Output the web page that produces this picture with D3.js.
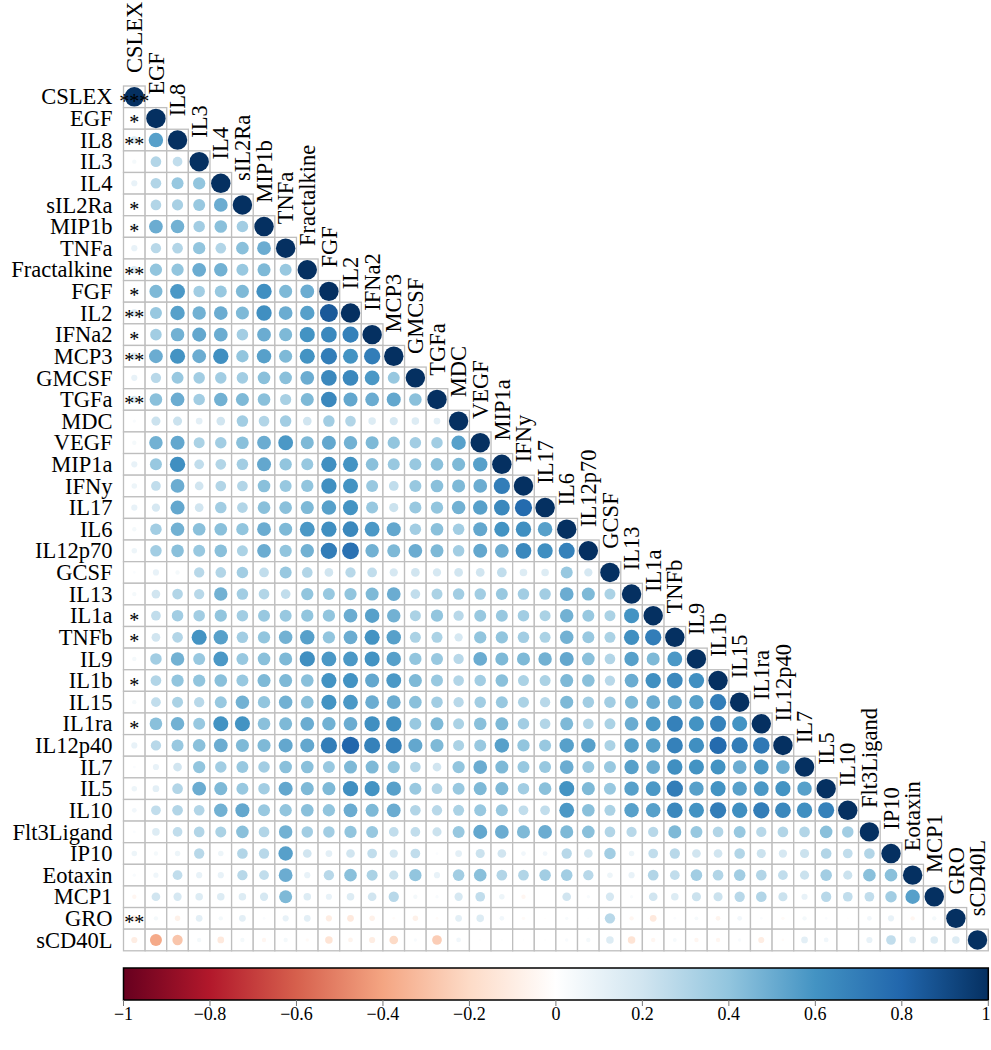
<!DOCTYPE html>
<html><head><meta charset="utf-8">
<script src="https://cdn.jsdelivr.net/npm/d3@7"></script>
<style>body{margin:0;background:#fff}svg{display:block}text{font-family:"Liberation Serif","Times New Roman",serif}</style>
</head><body><div id="chart"></div>
<script>
const variables = ["CSLEX","EGF","IL8","IL3","IL4","sIL2Ra","MIP1b","TNFa","Fractalkine","FGF","IL2","IFNa2","MCP3","GMCSF","TGFa","MDC","VEGF","MIP1a","IFNy","IL17","IL6","IL12p70","GCSF","IL13","IL1a","TNFb","IL9","IL1b","IL15","IL1ra","IL12p40","IL7","IL5","IL10","Flt3Ligand","IP10","Eotaxin","MCP1","GRO","sCD40L"];

// lower-triangle correlations, row i holds columns 0..i
const corrLower = [
[1],
[0.10,1],
[0.15,0.55,1],
[0.05,0.30,0.25,1],
[0.10,0.30,0.38,0.40,1],
[0.10,0.30,0.33,0.38,0.50,1],
[0.10,0.50,0.48,0.35,0.42,0.35,1],
[0.10,0.28,0.30,0.40,0.30,0.42,0.50,1],
[0.15,0.40,0.40,0.50,0.48,0.38,0.45,0.38,1],
[0.10,0.45,0.58,0.35,0.38,0.45,0.62,0.45,0.50,1],
[0.15,0.38,0.55,0.48,0.50,0.45,0.62,0.50,0.55,0.85,1],
[0.10,0.35,0.48,0.52,0.50,0.35,0.50,0.45,0.60,0.65,0.68,1],
[0.15,0.50,0.60,0.50,0.62,0.40,0.55,0.45,0.60,0.70,0.60,0.70,1],
[0.10,0.28,0.38,0.35,0.35,0.35,0.42,0.42,0.50,0.65,0.65,0.58,0.38,1],
[0.15,0.42,0.50,0.35,0.48,0.45,0.42,0.33,0.45,0.65,0.52,0.50,0.52,0.42,1],
[0.03,0.22,0.22,0.12,0.20,0.35,0.30,0.35,0.20,0.35,0.30,0.15,0.18,0.15,0.12,1],
[0.05,0.48,0.52,0.32,0.35,0.42,0.50,0.58,0.45,0.52,0.48,0.45,0.40,0.35,0.35,0.55,1],
[0.10,0.38,0.62,0.25,0.30,0.35,0.52,0.40,0.38,0.62,0.60,0.42,0.38,0.38,0.42,0.45,0.55,1],
[0.08,0.25,0.50,0.20,0.30,0.30,0.42,0.38,0.40,0.62,0.60,0.38,0.25,0.38,0.42,0.45,0.50,0.70,1],
[0.10,0.18,0.52,0.20,0.35,0.30,0.42,0.42,0.45,0.55,0.60,0.38,0.22,0.38,0.40,0.48,0.55,0.65,0.78,1],
[0.05,0.35,0.48,0.42,0.42,0.40,0.50,0.45,0.58,0.62,0.65,0.58,0.52,0.35,0.42,0.35,0.52,0.60,0.62,0.55,1],
[0.08,0.35,0.42,0.38,0.42,0.32,0.50,0.40,0.48,0.70,0.75,0.48,0.45,0.50,0.45,0.35,0.52,0.50,0.65,0.62,0.68,1],
[0.02,0.10,0.05,0.28,0.30,0.35,0.25,0.38,0.30,0.20,0.28,0.25,0.18,0.20,0.18,0.20,0.20,0.25,0.15,0.15,0.38,0.18,1],
[0.05,0.20,0.30,0.28,0.48,0.35,0.30,0.25,0.40,0.38,0.40,0.45,0.50,0.25,0.32,0.35,0.35,0.38,0.35,0.35,0.50,0.45,0.32,1],
[0.08,0.25,0.35,0.35,0.40,0.35,0.38,0.38,0.40,0.40,0.50,0.55,0.48,0.32,0.40,0.28,0.38,0.38,0.35,0.32,0.48,0.38,0.32,0.60,1],
[0.05,0.20,0.30,0.60,0.55,0.35,0.40,0.48,0.55,0.40,0.50,0.60,0.55,0.32,0.32,0.18,0.40,0.40,0.35,0.32,0.48,0.38,0.32,0.62,0.70,1],
[0.05,0.35,0.48,0.38,0.58,0.38,0.42,0.45,0.62,0.58,0.58,0.60,0.55,0.40,0.38,0.28,0.50,0.45,0.45,0.48,0.52,0.42,0.30,0.55,0.45,0.58,1],
[0.05,0.30,0.40,0.40,0.42,0.38,0.45,0.45,0.42,0.60,0.60,0.52,0.58,0.45,0.38,0.30,0.35,0.42,0.32,0.32,0.45,0.42,0.28,0.50,0.62,0.65,0.62,1],
[0.05,0.25,0.32,0.28,0.38,0.48,0.40,0.48,0.42,0.60,0.58,0.50,0.50,0.42,0.35,0.28,0.35,0.38,0.32,0.28,0.45,0.35,0.35,0.45,0.50,0.52,0.55,0.70,1],
[0.05,0.42,0.48,0.38,0.60,0.60,0.42,0.45,0.50,0.48,0.50,0.62,0.62,0.38,0.45,0.32,0.42,0.45,0.35,0.30,0.45,0.30,0.32,0.50,0.58,0.68,0.60,0.68,0.60,1],
[0.10,0.28,0.38,0.42,0.50,0.45,0.45,0.52,0.52,0.70,0.80,0.68,0.68,0.52,0.45,0.32,0.38,0.55,0.40,0.38,0.55,0.55,0.32,0.55,0.55,0.68,0.62,0.78,0.70,0.72,1],
[0.02,0.10,0.20,0.40,0.35,0.38,0.35,0.42,0.42,0.38,0.45,0.45,0.40,0.30,0.20,0.40,0.50,0.45,0.38,0.38,0.50,0.38,0.38,0.55,0.50,0.62,0.60,0.60,0.50,0.58,0.50,1],
[0.08,0.12,0.30,0.50,0.45,0.38,0.35,0.52,0.45,0.45,0.62,0.60,0.55,0.38,0.30,0.38,0.45,0.45,0.35,0.42,0.60,0.45,0.38,0.55,0.58,0.70,0.55,0.60,0.55,0.58,0.60,0.55,1],
[0.06,0.25,0.30,0.30,0.48,0.52,0.38,0.40,0.42,0.40,0.50,0.45,0.50,0.30,0.28,0.32,0.38,0.38,0.25,0.25,0.58,0.42,0.32,0.55,0.55,0.65,0.60,0.70,0.62,0.70,0.65,0.62,0.68,1],
[0.02,0.15,0.25,0.30,0.32,0.42,0.30,0.48,0.35,0.35,0.40,0.38,0.25,0.25,0.22,0.38,0.52,0.50,0.45,0.50,0.45,0.42,0.30,0.28,0.28,0.45,0.38,0.30,0.38,0.28,0.30,0.30,0.42,0.35,1],
[0.08,0.05,0.08,0.28,0.08,0.30,0.28,0.55,0.20,0.12,0.20,0.25,0.18,0.25,0.02,0.12,0.22,0.20,0.06,0.06,0.28,0.20,0.35,0.08,0.25,0.28,0.20,0.20,0.30,0.22,0.18,0.22,0.30,0.25,0.30,1],
[0.03,0.07,0.25,0.10,0.10,0.28,0.25,0.50,0.10,0.28,0.42,0.32,0.22,0.40,0.10,0.35,0.42,0.30,0.30,0.35,0.35,0.28,0.08,0.10,0.30,0.25,0.35,0.30,0.35,0.30,0.25,0.22,0.35,0.22,0.42,0.42,1],
[-0.05,0.20,0.18,0.15,0.15,0.15,0.18,0.45,0.15,0.10,0.15,0.20,0.28,0.05,0.03,0.18,0.25,0.08,-0.05,0.00,0.20,0.03,0.18,0.03,0.20,0.15,0.22,0.22,0.28,0.30,0.22,0.10,0.28,0.25,0.25,0.35,0.55,1],
[-0.10,0.05,-0.08,0.12,0.05,0.12,0.02,0.10,0.12,-0.10,-0.12,-0.08,-0.02,-0.08,-0.02,0.12,0.15,0.06,-0.03,-0.01,0.03,0.01,0.28,-0.05,-0.12,0.02,0.04,-0.06,0.06,0.02,-0.03,0.05,0.02,-0.01,0.06,0.10,-0.05,0.05,1],
[-0.10,-0.38,-0.28,0.05,-0.12,0.05,-0.05,0.05,-0.03,-0.15,-0.06,-0.10,-0.20,0.03,-0.25,0.06,0.01,0.01,0.01,0.01,0.03,0.05,0.15,-0.15,-0.05,0.04,-0.05,-0.05,0.03,-0.10,-0.02,0.12,0.06,0.00,0.10,0.25,0.12,0.15,0.15,1]
];

// significance stars shown in the first column
const sigStars = ["***","*","**","","","*","*","","**","*","**","*","**","","**","","","","","","","","","","*","*","","*","","*","","","","","","","","","**",""];

const colorStops = ["#67001F","#B2182B","#D6604D","#F4A582","#FDDBC7","#FFFFFF","#D1E5F0","#92C5DE","#4393C3","#2166AC","#053061"];
const colorTicks = [-1,-0.8,-0.6,-0.4,-0.2,0,0.2,0.4,0.6,0.8,1];

const W = 991, H = 1050;
const gx0 = 123.5, gy0 = 86, gsize = 864.8;

const svg = d3.select("#chart").append("svg").attr("width", W).attr("height", H);

const x = d3.scaleBand().domain(variables).range([gx0, gx0 + gsize]);
const y = d3.scaleBand().domain(variables).range([gy0, gy0 + gsize]);
const cs = x.bandwidth();
const color = d3.scaleLinear().domain(d3.range(11).map(i => -1 + i * 0.2)).range(colorStops).clamp(true);
const rScale = v => 0.9 * Math.sqrt(Math.abs(v)) / 2 * cs;

const cells = [];
corrLower.forEach((row, i) => row.forEach((v, j) => cells.push({i, j, v})));

const g = svg.append("g");
g.selectAll("rect.cell").data(cells).join("rect")
  .attr("class", "cell")
  .attr("x", d => x(variables[d.j]))
  .attr("y", d => y(variables[d.i]))
  .attr("width", cs).attr("height", cs)
  .attr("fill", "#fff").attr("stroke", "#bebebe").attr("stroke-width", 1.3);

g.selectAll("circle").data(cells).join("circle")
  .attr("cx", d => x(variables[d.j]) + cs / 2)
  .attr("cy", d => y(variables[d.i]) + cs / 2)
  .attr("r", d => rScale(d.v))
  .attr("fill", d => color(d.v));

// stars
g.selectAll("text.star").data(sigStars.map((s, i) => ({s, i})).filter(d => d.s)).join("text")
  .attr("class", "star")
  .attr("x", x(variables[0]) + cs / 2)
  .attr("y", d => y(variables[d.i]) + cs / 2 + 11)
  .attr("text-anchor", "middle")
  .attr("font-size", 20)
  .attr("fill", "#000")
  .text(d => d.s);

// row labels
svg.append("g").selectAll("text").data(variables).join("text")
  .attr("x", gx0 - 11)
  .attr("y", d => y(d) + cs / 2)
  .attr("dy", "0.34em")
  .attr("text-anchor", "end")
  .attr("font-size", 22.5)
  .text(d => d);

// diagonal labels
svg.append("g").selectAll("text").data(variables).join("text")
  .attr("transform", d => `translate(${x(d) + cs / 2},${y(d) - 13}) rotate(-90)`)
  .attr("dy", "0.34em")
  .attr("text-anchor", "start")
  .attr("font-size", 22.5)
  .text(d => d);

// colorbar
const cbTop = 968, cbH = 32;
const cx = d3.scaleLinear().domain([-1, 1]).range([gx0, gx0 + gsize]);
const defs = svg.append("defs");
const grad = defs.append("linearGradient").attr("id", "cbgrad").attr("x1", "0%").attr("x2", "100%");
colorStops.forEach((c, i) => grad.append("stop").attr("offset", (i * 10) + "%").attr("stop-color", c));
svg.append("rect").attr("x", cx(-1)).attr("y", cbTop).attr("width", cx(1) - cx(-1)).attr("height", cbH)
  .attr("fill", "url(#cbgrad)").attr("stroke", "#000").attr("stroke-width", 1.5);
const cbAxis = svg.append("g");
cbAxis.selectAll("line").data(colorTicks).join("line")
  .attr("x1", d => cx(d)).attr("x2", d => cx(d))
  .attr("y1", cbTop + cbH).attr("y2", cbTop + cbH + 6)
  .attr("stroke", "#777").attr("stroke-width", 1);
cbAxis.selectAll("text").data(colorTicks).join("text")
  .attr("x", d => Math.min(cx(d), W - 5))
  .attr("y", 1020)
  .attr("text-anchor", "middle")
  .attr("font-size", 18)
  .text(d => d3.format("")(d).replace("-", "\u2212"));
</script></body></html>
